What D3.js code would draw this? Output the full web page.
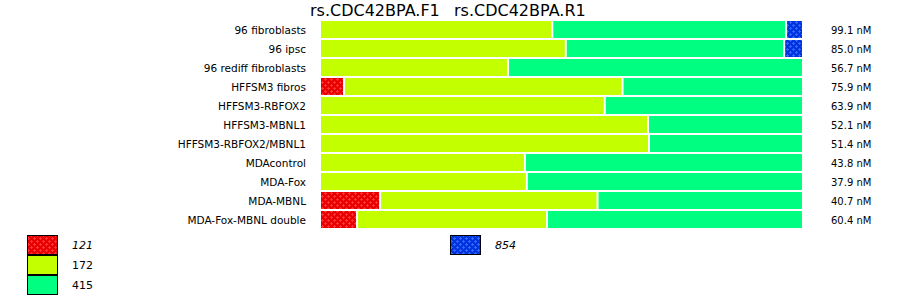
<!DOCTYPE html>
<html lang="en">
<head>
    <meta charset="UTF-8">
    <title>rs.CDC42BPA</title>
    <style>
        body { margin: 0; background: #fff; }
        text { font-family: "DejaVu Sans", sans-serif; }
    </style>
</head>
<body></body>
<script src="https://cdn.jsdelivr.net/npm/d3@7"></script>
<script>
    // samples, top to bottom
    const samples = ["96 fibroblasts", "96 ipsc", "96 rediff fibroblasts", "HFFSM3 fibros",
        "HFFSM3-RBFOX2", "HFFSM3-MBNL1", "HFFSM3-RBFOX2/MBNL1", "MDAcontrol",
        "MDA-Fox", "MDA-MBNL", "MDA-Fox-MBNL double"];
    const concentrations = ["99.1 nM", "85.0 nM", "56.7 nM", "75.9 nM", "63.9 nM", "52.1 nM",
        "51.4 nM", "43.8 nM", "37.9 nM", "40.7 nM", "60.4 nM"];

    // percent of each product size per sample
    const s121 = [0, 0, 0, 5.0, 0, 0, 0, 0, 0, 12.5, 7.7];
    const s172 = [48.3, 51.1, 39.1, 57.9, 59.2, 68.2, 68.4, 42.6, 43.0, 45.2, 39.5];
    const s415 = [48.6, 45.4, 60.9, 37.1, 40.8, 31.8, 31.6, 57.4, 57.0, 42.3, 52.8];
    const s854 = [3.1, 3.5, 0, 0, 0, 0, 0, 0, 0, 0, 0];

    const sizes = ["121", "172", "415", "854"];
    const colors = ["url(#dotRed)", "#c4ff00", "#00ff80", "url(#dotBlue)"];
    const titles = ["rs.CDC42BPA.F1", "rs.CDC42BPA.R1"];

    const width = 900, height = 299;
    const svg = d3.select("body").append("svg")
        .attr("width", width)
        .attr("height", height);

    // dotted fills
    const defs = svg.append("defs");
    function dots(id, base, dot) {
        const p = defs.append("pattern").attr("id", id)
            .attr("patternUnits", "userSpaceOnUse")
            .attr("width", 6).attr("height", 6);
        p.append("rect").attr("width", 6).attr("height", 6).attr("fill", base);
        [[1.5, 1.5], [4.5, 4.5]].forEach(([cx, cy]) => {
            p.append("rect").attr("x", cx - 1.5).attr("y", cy - 0.5).attr("width", 3).attr("height", 1).attr("fill", dot);
            p.append("rect").attr("x", cx - 0.5).attr("y", cy - 1.5).attr("width", 1).attr("height", 3).attr("fill", dot);
        });
    }
    dots("dotRed", "#e80000", "#ff3333");
    dots("dotBlue", "#0033e0", "#3366ff");

    const x = d3.scaleLinear().domain([0, 100]).range([321, 802]);
    const y = d3.scaleBand().domain(samples).range([20, 229])
        .paddingInner(0.105).paddingOuter(0.0525);

    const series = [s121, s172, s415, s854];
    const rows = samples.map((name, i) => {
        let acc = 0;
        const segs = [];
        series.forEach((vals, k) => {
            if (vals[i] > 0) segs.push({ k: k, x0: acc, x1: acc + vals[i] });
            acc += vals[i];
        });
        segs.forEach((s, j) => s.last = j === segs.length - 1);
        return { name: name, segs: segs };
    });

    svg.selectAll("g.row")
        .data(rows)
        .enter()
        .append("g")
        .attr("class", "row")
        .selectAll("rect")
        .data(d => d.segs.map(s => Object.assign({ name: d.name }, s)))
        .enter()
        .append("rect")
        .attr("x", d => x(d.x0))
        .attr("y", d => y(d.name))
        .attr("width", d => Math.max(0, x(d.x1) - x(d.x0) - (d.last ? 0 : 2)))
        .attr("height", y.bandwidth())
        .attr("fill", d => colors[d.k]);

    // sample labels
    svg.selectAll("text.lab")
        .data(samples)
        .enter()
        .append("text")
        .attr("class", "lab")
        .attr("x", 306)
        .attr("y", d => y(d) + y.bandwidth() / 2 + 4)
        .attr("text-anchor", "end")
        .style("font-size", "10.5px")
        .text(d => d);

    // concentrations
    svg.selectAll("text.conc")
        .data(concentrations)
        .enter()
        .append("text")
        .attr("class", "conc")
        .attr("x", 831)
        .attr("y", (d, i) => y(samples[i]) + y.bandwidth() / 2 + 4)
        .style("font-size", "10px")
        .text(d => d);

    // titles
    svg.selectAll("text.title")
        .data(titles)
        .enter()
        .append("text")
        .attr("class", "title")
        .attr("x", (d, i) => i === 0 ? 310 : 454)
        .attr("y", 16)
        .style("font-size", "16px")
        .text(d => d);

    // legends
    const legend = [
        { k: 0, lx: 27, ly: 235, italic: true },
        { k: 1, lx: 27, ly: 255, italic: false },
        { k: 2, lx: 27, ly: 275, italic: false },
        { k: 3, lx: 450, ly: 235, italic: true }
    ];
    const lg = svg.selectAll("g.leg")
        .data(legend)
        .enter()
        .append("g")
        .attr("class", "leg");
    lg.append("rect")
        .attr("x", d => d.lx + 0.5)
        .attr("y", d => d.ly + 0.5)
        .attr("width", 30)
        .attr("height", 19)
        .attr("fill", d => colors[d.k])
        .attr("stroke", "#000")
        .attr("stroke-width", 1);
    lg.append("text")
        .attr("x", d => d.lx + 45)
        .attr("y", d => d.ly + 14)
        .style("font-size", "11px")
        .style("font-style", d => d.italic ? "italic" : "normal")
        .text(d => sizes[d.k]);
</script>
</html>
